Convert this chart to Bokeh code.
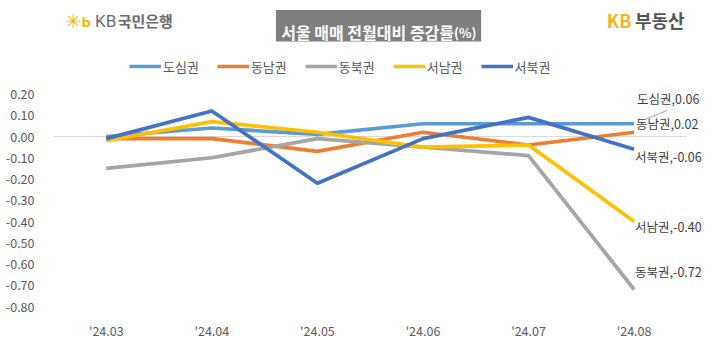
from bokeh.plotting import figure
from bokeh.layouts import column
from bokeh.models import (Range1d, FixedTicker, Label, Legend, LegendItem,
                          ColumnDataSource)
from bokeh.embed import file_html
from bokeh.resources import INLINE
from bokeh.core.properties import value

# ---------------- data ----------------
months = ["'24.03", "'24.04", "'24.05", "'24.06", "'24.07", "'24.08"]
series_names = ["도심권", "동남권", "동북권", "서남권", "서북권"]
dosim = [0.00, 0.04, 0.01, 0.06, 0.06, 0.06]
dongnam = [-0.01, -0.01, -0.07, 0.02, -0.04, 0.02]
dongbuk = [-0.15, -0.10, -0.01, -0.05, -0.09, -0.72]
seonam = [-0.02, 0.07, 0.02, -0.05, -0.04, -0.40]
seobuk = [-0.01, 0.12, -0.22, -0.01, 0.09, -0.06]
y_ticks = [0.2, 0.1, 0.0, -0.1, -0.2, -0.3, -0.4, -0.5, -0.6, -0.7, -0.8]

series_values = [dosim, dongnam, dongbuk, seonam, seobuk]
colors = ["#5B9BD5", "#ED7D31", "#A5A5A5", "#FFC000", "#4472C4"]
# label offsets (screen px) for end-of-line data labels
label_dy = [-25, -9, -18, 5, 7]
label_dx = [3, 2, 1, 1, 1]

# ---------------- geometry ----------------
W, H = 704, 342
SX, SY = W / 720, H / 358
HT = 44                      # height of the header strip
HM = H - HT                  # height of the chart figure
LEFT, BOTTOM = 53, 36
X0, X1 = -0.5, 5.6667
Y0 = -0.8
PX_X = (W - LEFT) / (X1 - X0)
PX_Y = 212.5
Y1 = Y0 + (HM - BOTTOM) / PX_Y


def dx(ref_x):
    return X0 + (ref_x * SX - LEFT) / PX_X


def dy(ref_y):
    return Y1 - (ref_y * SY - HT) / PX_Y


def tx(ref_x):
    return ref_x * SX


def ty(ref_y):
    return ref_y * SY


KR = "Noto Sans CJK KR"

# ---------------- header strip ----------------
top = figure(width=W, height=HT, output_backend="svg", toolbar_location=None,
             title=None, x_range=Range1d(0, W), y_range=Range1d(HT, 0),
             x_axis_location=None, y_axis_location=None,
             min_border=0, min_border_left=0, min_border_right=0,
             min_border_top=0, min_border_bottom=0)
top.outline_line_color = None
top.xgrid.visible = False
top.ygrid.visible = False

top.quad(left=[tx(246)], right=[tx(473)], top=[ty(10)], bottom=[ty(43)],
         fill_color="#7F7F7F", line_color=None)
top.add_layout(Label(x=tx(443), y=ty(33), text="서울 매매 전월대비 증감률",
                     text_font=KR, text_font_size="16px",
                     text_font_style="bold", text_color="white",
                     text_baseline="alphabetic", text_align="right"))
top.add_layout(Label(x=tx(443), y=ty(33), text="(%)",
                     text_font=KR, text_font_size="13px",
                     text_font_style="bold", text_color="white",
                     text_baseline="alphabetic", text_align="left"))

# KB국민은행 logo
top.add_layout(Label(x=tx(13), y=ty(21), text="✳", text_font="DejaVu Sans",
                     text_font_size="19px", text_color="#F5B700",
                     text_baseline="middle", text_align="left"))
top.add_layout(Label(x=tx(31), y=ty(23), text="b", text_font="DejaVu Sans",
                     text_font_size="13px", text_font_style="bold",
                     text_color="#F5B700",
                     text_baseline="middle", text_align="left"))
top.add_layout(Label(x=tx(46), y=ty(21), text="KB", text_font="Roboto",
                     text_font_size="17px", text_color="#6B6B6B",
                     text_baseline="middle", text_align="left"))
top.add_layout(Label(x=tx(71), y=ty(21), text="국민은행", text_font=KR,
                     text_font_size="15px", text_font_style="bold",
                     text_color="#6B6B6B",
                     text_baseline="middle", text_align="left"))

# KB부동산 logo
top.add_layout(Label(x=tx(612), y=ty(20), text="KB", text_font=KR,
                     text_font_size="18px", text_font_style="bold",
                     text_color="#F2B51B",
                     text_baseline="middle", text_align="left"))
top.add_layout(Label(x=tx(643), y=ty(20), text="부동산", text_font=KR,
                     text_font_size="18px", text_font_style="bold",
                     text_color="#555555",
                     text_baseline="middle", text_align="left"))

# ---------------- chart ----------------
p = figure(width=W, height=HM, output_backend="svg", toolbar_location=None,
           title=None, x_range=Range1d(X0, X1), y_range=Range1d(Y0, Y1),
           min_border_left=LEFT, min_border_right=0, min_border_top=0,
           min_border_bottom=BOTTOM)
p.outline_line_color = None
p.xgrid.visible = False
p.ygrid.visible = False

p.yaxis.ticker = FixedTicker(ticks=y_ticks)
p.yaxis.major_label_overrides = {t: f"{t:.2f}" for t in y_ticks}
p.yaxis.axis_line_color = None
p.yaxis.major_tick_line_color = None
p.yaxis.minor_tick_line_color = None
p.yaxis.major_label_standoff = 13
p.yaxis.major_label_text_font = KR
p.yaxis.major_label_text_font_size = "12.5px"
p.yaxis.major_label_text_color = "#595959"

xs = list(range(len(months)))
p.xaxis.ticker = FixedTicker(ticks=xs)
p.xaxis.major_label_overrides = {i: m for i, m in enumerate(months)}
p.xaxis.axis_line_color = None
p.xaxis.major_tick_line_color = None
p.xaxis.minor_tick_line_color = None
p.xaxis.major_label_standoff = 8
p.xaxis.major_label_text_font = KR
p.xaxis.major_label_text_font_size = "12.5px"
p.xaxis.major_label_text_color = "#595959"

# zero line (horizontal axis line)
p.segment(x0=[X0], y0=[0], x1=[len(months) - 0.5], y1=[0],
          line_color="#D9D9D9", line_width=1)

items = []
for name, vals, col in zip(series_names, series_values, colors):
    r = p.line(xs, vals, line_color=col, line_width=3.7, line_join="round")
    items.append(LegendItem(label=name, renderers=[r]))

last = len(months) - 1
lab_src = ColumnDataSource(dict(
    x=[last] * len(series_names),
    y=[v[-1] for v in series_values],
    text=[f"{n},{v[-1]:.2f}" for n, v in zip(series_names, series_values)],
    xo=label_dx, yo=label_dy))
p.text(x="x", y="y", text="text", x_offset="xo", y_offset="yo",
       source=lab_src, text_font=value(KR), text_font_size="12.5px",
       text_color="#404040", text_baseline="middle", text_align="left")

# leader line for 도심권 label
p.segment(x0=[dx(660)], y0=[dy(124)], x1=[dx(682)], y1=[dy(115)],
          line_color="#A6A6A6", line_width=1)

legend = Legend(items=items, orientation="horizontal", location=(76, 230),
                padding=0, margin=0, spacing=18, label_standoff=2,
                glyph_width=32, glyph_height=20, label_height=20,
                border_line_alpha=0, background_fill_alpha=0,
                label_text_font=KR, label_text_font_size="13px",
                label_text_color="#595959")
p.add_layout(legend, "center")

layout = column(top, p, spacing=0)
open("out.html", "w").write(file_html(layout, INLINE))
